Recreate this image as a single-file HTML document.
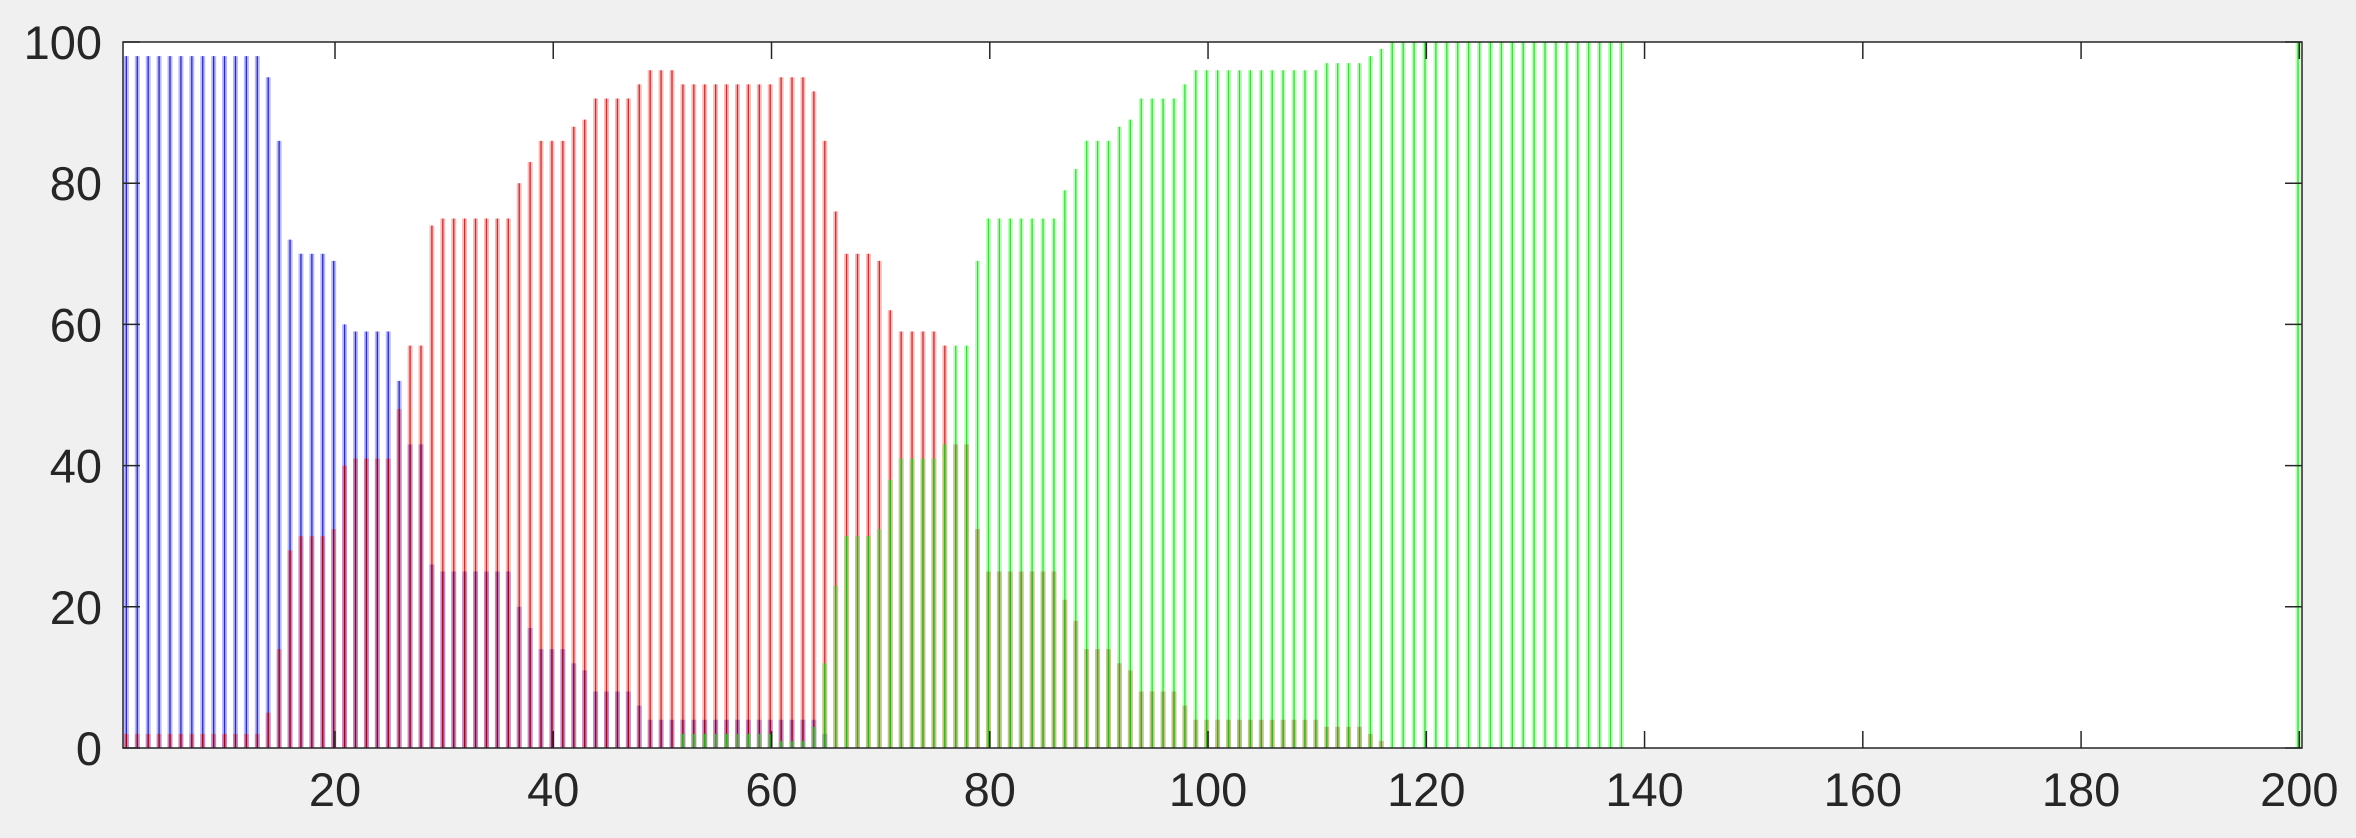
<!DOCTYPE html>
<html>
<head>
<meta charset="utf-8">
<style>
  html,body{margin:0;padding:0;background:#f0f0f0;}
  svg{display:block;}
  text{font-family:"Liberation Sans",Arial,sans-serif;fill:#262626;font-size:47px;}
</style>
</head>
<body>
<svg id="chart" width="2356" height="838" viewBox="0 0 2356 838" xmlns="http://www.w3.org/2000/svg">
  <rect x="0" y="0" width="2356" height="838" fill="#f0f0f0"/>
  <rect x="123" y="42" width="2179" height="706" fill="#ffffff"/>
  <g id="bars"></g>
  <g id="axes"></g>
</svg>
<script>
const xTicks = [20,40,60,80,100,120,140,160,180,200];
const yTicks = [0,20,40,60,80,100];
const blueValues = [
98,98,98,98,98,98,98,98,98,98,
98,98,98,95,86,72,70,70,70,69,
60,59,59,59,59,52,43,43,26,25,
25,25,25,25,25,25,20,17,14,14,
14,12,11,8,8,8,8,6,4,4,
4,4,4,4,4,4,4,4,4,4,
4,4,4,4,2,0,0,0,0,0,
0,0,0,0,0,0,0,0,0,0,
0,0,0,0,0,0,0,0,0,0,
0,0,0,0,0,0,0,0,0,0,
0,0,0,0,0,0,0,0,0,0,
0,0,0,0,0,0,0,0,0,0,
0,0,0,0,0,0,0,0,0,0,
0,0,0,0,0,0,0,0,0,0,
0,0,0,0,0,0,0,0,0,0,
0,0,0,0,0,0,0,0,0,0,
0,0,0,0,0,0,0,0,0,0,
0,0,0,0,0,0,0,0,0,0,
0,0,0,0,0,0,0,0,0,0,
0,0,0,0,0,0,0,0,0,0];
const redValues = [
2,2,2,2,2,2,2,2,2,2,
2,2,2,5,14,28,30,30,30,31,
40,41,41,41,41,48,57,57,74,75,
75,75,75,75,75,75,80,83,86,86,
86,88,89,92,92,92,92,94,96,96,
96,94,94,94,94,94,94,94,94,94,
95,95,95,93,86,76,70,70,70,69,
62,59,59,59,59,57,43,43,31,25,
25,25,25,25,25,25,21,18,14,14,
14,12,11,8,8,8,8,6,4,4,
4,4,4,4,4,4,4,4,4,4,
3,3,3,3,2,1,0,0,0,0,
0,0,0,0,0,0,0,0,0,0,
0,0,0,0,0,0,0,0,0,0,
0,0,0,0,0,0,0,0,0,0,
0,0,0,0,0,0,0,0,0,0,
0,0,0,0,0,0,0,0,0,0,
0,0,0,0,0,0,0,0,0,0,
0,0,0,0,0,0,0,0,0,0,
0,0,0,0,0,0,0,0,0,0];
const greenValues = [
0,0,0,0,0,0,0,0,0,0,
0,0,0,0,0,0,0,0,0,0,
0,0,0,0,0,0,0,0,0,0,
0,0,0,0,0,0,0,0,0,0,
0,0,0,0,0,0,0,0,0,0,
0,2,2,2,2,2,2,2,2,2,
1,1,1,3,12,23,30,30,30,31,
38,41,41,41,41,43,57,57,69,75,
75,75,75,75,75,75,79,82,86,86,
86,88,89,92,92,92,92,94,96,96,
96,96,96,96,96,96,96,96,96,96,
97,97,97,97,98,99,100,100,100,100,
100,100,100,100,100,100,100,100,100,100,
100,100,100,100,100,100,100,100,0,0,
0,0,0,0,0,0,0,0,0,0,
0,0,0,0,0,0,0,0,0,0,
0,0,0,0,0,0,0,0,0,0,
0,0,0,0,0,0,0,0,0,0,
0,0,0,0,0,0,0,0,0,0,
0,0,0,0,0,0,0,0,0,100];

const NS = "http://www.w3.org/2000/svg";
const L = 123, R = 2302, T = 42, B = 748;
function xScale(n){ return 335 + (n - 20) * 10.913; }
function yScale(v){ return B - v * (B - T) / 100; }

const seriesList = [
  {name:'blue', vals: blueValues, fill:'rgba(0,0,255,0.28)', stroke:'rgba(0,0,140,0.75)'},
  {name:'red', vals: redValues, fill:'rgba(255,0,0,0.28)', stroke:'rgba(150,0,0,0.70)'},
  {name:'green', vals: greenValues, fill:'rgba(0,255,0,0.28)', stroke:'rgba(40,190,40,0.75)'}
];
const barsG = document.getElementById('bars');
const bw = 5;
seriesList.forEach(s => {
  s.vals.forEach((v, i) => {
    if (v <= 0) return;
    const n = i + 1;
    const cx = xScale(n - 0.12);
    const y0 = yScale(v);
    const r = document.createElementNS(NS, 'rect');
    r.setAttribute('x', cx - bw/2);
    r.setAttribute('y', y0);
    r.setAttribute('width', bw);
    r.setAttribute('height', B - y0);
    r.setAttribute('fill', s.fill);
    
    
    barsG.appendChild(r);
    const ln = document.createElementNS(NS, 'line');
    ln.setAttribute('x1', cx); ln.setAttribute('x2', cx);
    ln.setAttribute('y1', y0); ln.setAttribute('y2', B);
    ln.setAttribute('stroke', s.stroke);
    ln.setAttribute('stroke-width', 1.3);
    
    
    barsG.appendChild(ln);
  });
});

const axesG = document.getElementById('axes');
const frame = document.createElementNS(NS, 'rect');
frame.setAttribute('x', L); frame.setAttribute('y', T);
frame.setAttribute('width', R - L); frame.setAttribute('height', B - T);
frame.setAttribute('fill', 'none'); frame.setAttribute('stroke', '#262626'); frame.setAttribute('stroke-width', 1.5);


axesG.appendChild(frame);

const tl = 17;
xTicks.forEach(t => {
  const x = xScale(t);
  [[B, B - tl], [T, T + tl]].forEach(([a, b]) => {
    const l = document.createElementNS(NS, 'line');
    l.setAttribute('x1', x); l.setAttribute('x2', x);
    l.setAttribute('y1', a); l.setAttribute('y2', b);
    l.setAttribute('stroke', '#262626'); l.setAttribute('stroke-width', 1.5);
    
    
    axesG.appendChild(l);
  });
  const tx = document.createElementNS(NS, 'text');
  tx.setAttribute('x', x); tx.setAttribute('y', 806);
  tx.setAttribute('text-anchor', 'middle');
  tx.textContent = t;
  
  
  axesG.appendChild(tx);
});
yTicks.forEach(t => {
  const y = yScale(t);
  [[L, L + tl], [R, R - tl]].forEach(([a, b]) => {
    const l = document.createElementNS(NS, 'line');
    l.setAttribute('x1', a); l.setAttribute('x2', b);
    l.setAttribute('y1', y); l.setAttribute('y2', y);
    l.setAttribute('stroke', '#262626'); l.setAttribute('stroke-width', 1.5);
    
    
    axesG.appendChild(l);
  });
  const tx = document.createElementNS(NS, 'text');
  tx.setAttribute('x', 102); tx.setAttribute('y', y + 17);
  tx.setAttribute('text-anchor', 'end');
  tx.textContent = t;
  
  
  axesG.appendChild(tx);
});
</script>
</body>
</html>
